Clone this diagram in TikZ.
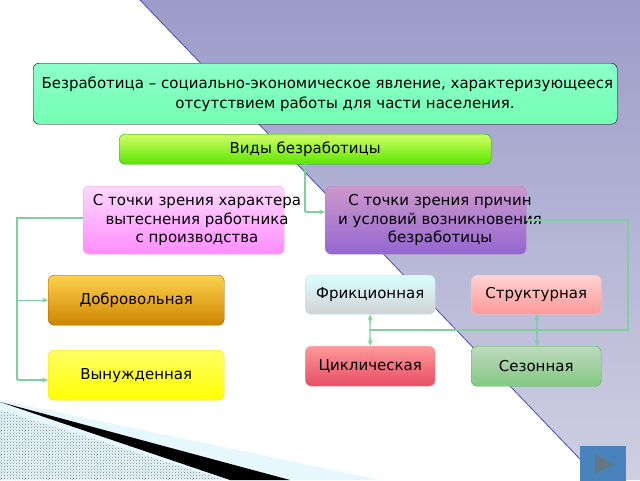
\documentclass[tikz,border=0pt]{standalone}
\usepackage{fontspec}
\setmainfont{DejaVu Sans}
\usepackage{tikz}
\usetikzlibrary{positioning,arrows.meta,calc,patterns}

\definecolor{linkgreen}{HTML}{7FCFA0}
\tikzset{
  box/.style={draw=#1!70!black, rounded corners=6pt, align=center, inner sep=0pt,
    font=\fontsize{15}{18.5}\selectfont},
  txt/.style={font=\fontsize{15}{18.5}\selectfont, align=center},
  link/.style={linkgreen, line width=1.3pt},
  tip/.style={link, -{Stealth[length=6pt, width=5pt]}},
}

\begin{document}
\begin{tikzpicture}[x=1pt, y=-1pt]

\useasboundingbox (0,0) rectangle (640,480);
\clip (0,0) rectangle (640,480);

% background
\shade[top color=blue!30!gray!60, bottom color=blue!25!gray!30] (140,0) -- (640,0) -- (640,480) -- (600,480) -- cycle;
\draw[blue!40!gray, thick] (140,0) -- (600,480);
\fill[cyan!10] (0,400) -- (380,480) -- (0,480) -- cycle;
\fill[black] (0,402) -- (290,480) -- (230,480) -- cycle;
\fill[pattern=crosshatch dots, pattern color=gray] (0,410) -- (225,480) -- (0,480) -- cycle;

% boxes
\node[box=black, draw=black, top color=green!45!cyan!45, bottom color=green!55!cyan!55,
  minimum width=584, minimum height=61, anchor=north west] (def) at (33,63) {};
\node[txt, anchor=west] at (38,84) {Безработица – социально-экономическое явление, характеризующееся};
\node[txt] at (345,104) {отсутствием работы для части населения.};

\node[box=green, top color=green!30!yellow!60, bottom color=green!60!yellow!90!black,
  minimum width=372, minimum height=30, anchor=north west] (kinds) at (119,134) {Виды безработицы};

\node[box=magenta, draw=magenta!40, top color=magenta!15, bottom color=magenta!45,
  minimum width=201, minimum height=68, anchor=north west] (leftc) at (83,186) {};
\node[txt] at (197,220) {С точки зрения характера\\вытеснения работника\\с производства};

\node[box=violet, draw=violet!50, top color=violet!40!white, bottom color=violet!60!blue!60,
  minimum width=201, minimum height=68, anchor=north west] (rightc) at (325,186) {};
\node[txt] at (440,220) {С точки зрения причин\\и условий возникновения\\безработицы};

\node[box=orange, top color=orange!50!yellow!70, bottom color=orange!70!yellow!80!black,
  minimum width=176, minimum height=50, anchor=north west] (vol) at (48,275) {Добровольная};
\node[box=yellow, draw=yellow!80!orange, top color=yellow!60, bottom color=yellow,
  minimum width=176, minimum height=50, anchor=north west] (forced) at (48,350) {Вынужденная};

\node[box=cyan, draw=cyan!30, top color=cyan!15, bottom color=gray!35,
  minimum width=130, minimum height=39, anchor=north west] (fric) at (305,275) {Фрикционная};
\node[box=red, draw=pink, top color=pink!70, bottom color=red!40,
  minimum width=130, minimum height=39, anchor=north west] (struct) at (471,275) {Структурная};
\node[box=red, draw=red!30, top color=pink!80!red, bottom color=red!45!purple!70!white,
  minimum width=130, minimum height=40, anchor=north west] (cycl) at (305,346) {Циклическая};
\node[box=green, draw=green!40!gray, top color=green!25!gray!40, bottom color=green!40!gray!70,
  minimum width=130, minimum height=40, anchor=north west] (season) at (471,346) {Сезонная};

% connectors
\coordinate (k1) at (305,212);
\draw[link] (kinds.south -| k1) -- (k1);
\draw[tip] (k1) -- (rightc.west |- k1);
\coordinate (l1) at (17,218);
\coordinate (l2) at (17,380);
\draw[link] (leftc.west |- l1) -- (l1) -- (l2);
\draw[tip] (l1 |- vol.west) -- (vol.west);
\draw[tip] (l2) -- (forced.west |- l2);
\coordinate (r1) at (628,220);
\coordinate (r2) at (628,330);
\coordinate (r3) at (370,330);
\coordinate (r4) at (537,330);
\draw[link] (rightc.east |- r1) -- (r1) -- (r2) -- (r3);
\draw[tip] (r3) -- (fric.south);
\draw[tip] (r3) -- (cycl.north);
\draw[tip] (r4) -- (struct.south -| r4);
\draw[tip] (r4) -- (season.north -| r4);

% button
\node[fill=cyan!60!blue!70!gray, minimum width=46, minimum height=36, anchor=north west, inner sep=0pt] (next) at (580,446) {};
\fill[cyan!30!black!80] ($(next.center)+(-8,-10)$) -- ($(next.center)+(10,0)$) -- ($(next.center)+(-8,10)$) -- cycle;

\end{tikzpicture}
\end{document}
